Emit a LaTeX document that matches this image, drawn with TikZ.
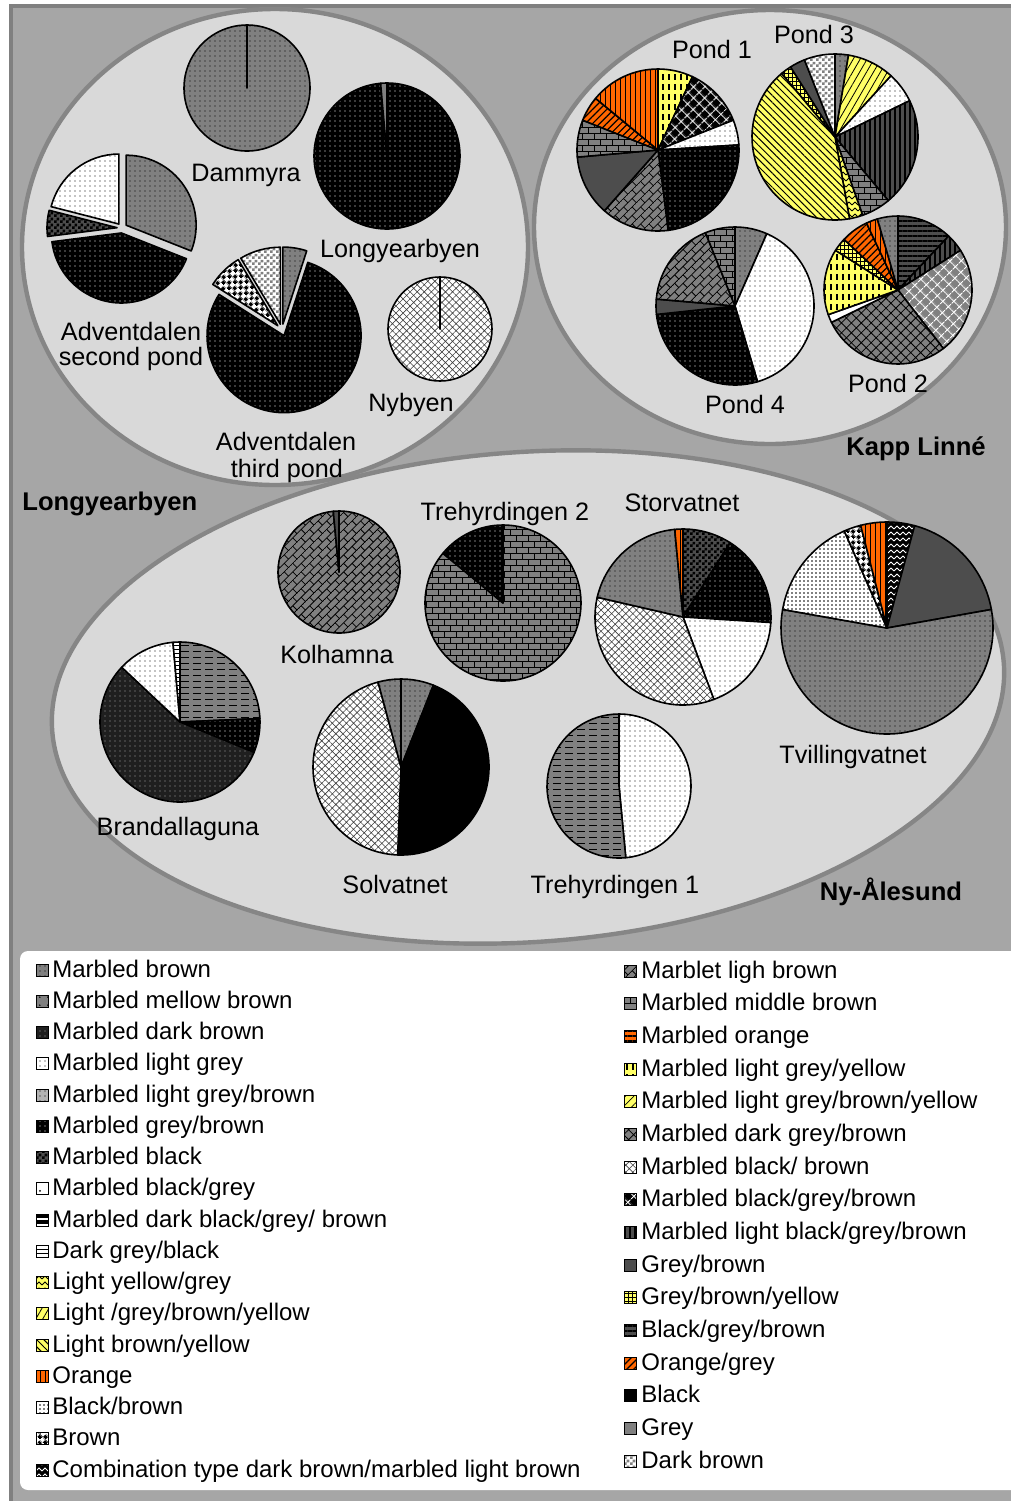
\documentclass[tikz,border=0pt]{standalone}
\usepackage{fontspec}
\setmainfont{Liberation Sans}
\usetikzlibrary{patterns.meta}

\definecolor{panel}{RGB}{166,166,166}
\definecolor{frame}{RGB}{128,128,128}
\definecolor{area}{RGB}{217,217,217}
\definecolor{arealine}{RGB}{134,134,134}
\definecolor{pgrey}{RGB}{128,128,128}
\definecolor{dgrey}{RGB}{77,77,77}
\definecolor{pyellow}{RGB}{255,255,102}
\definecolor{porange}{RGB}{255,102,0}

\tikzdeclarepattern{name=hbrick, type=uncolored,
  bottom left={(-.2pt,-.2pt)}, top right={(6.2pt,6.2pt)}, tile size={(6pt,6pt)},
  code={\draw[line width=.4pt] (0pt,0pt) -- (6pt,0pt) (0pt,3pt) -- (6pt,3pt)
    (0pt,0pt) -- (0pt,3pt) (3pt,3pt) -- (3pt,6pt);}}
\tikzdeclarepattern{name=dbrick, type=uncolored,
  bottom left={(-.2pt,-.2pt)}, top right={(6.2pt,6.2pt)}, tile size={(6pt,6pt)},
  tile transformation={rotate=45},
  code={\draw[line width=.4pt] (0pt,0pt) -- (6pt,0pt) (0pt,3pt) -- (6pt,3pt)
    (0pt,0pt) -- (0pt,3pt) (3pt,3pt) -- (3pt,6pt);}}
\tikzdeclarepattern{name=hdash, type=uncolored,
  bottom left={(-.2pt,-.2pt)}, top right={(6.2pt,3.2pt)}, tile size={(6pt,3pt)},
  code={\draw[line width=.5pt] (.5pt,1.5pt) -- (4.5pt,1.5pt);}}
\tikzdeclarepattern{name=vdash, type=uncolored,
  bottom left={(-.2pt,-.2pt)}, top right={(3.2pt,5.2pt)}, tile size={(3pt,5pt)},
  code={\draw[line width=.6pt] (1.5pt,.5pt) -- (1.5pt,3.5pt);}}
\tikzdeclarepattern{name=zz, type=uncolored,
  bottom left={(-.2pt,-.2pt)}, top right={(3.2pt,3.2pt)}, tile size={(3pt,3pt)},
  code={\draw[line width=.5pt] (0pt,0pt) -- (1.5pt,1.5pt) -- (3pt,0pt);}}
\tikzdeclarepattern{name=chk, type=uncolored,
  bottom left={(0pt,0pt)}, top right={(3pt,3pt)}, tile size={(3pt,3pt)},
  code={\fill (0pt,0pt) rectangle (1.5pt,1.5pt) (1.5pt,1.5pt) rectangle (3pt,3pt);}}
\tikzdeclarepattern{name=dchk, type=uncolored,
  bottom left={(0pt,0pt)}, top right={(4pt,4pt)}, tile size={(4pt,4pt)},
  tile transformation={rotate=45},
  code={\fill (0pt,0pt) rectangle (2pt,2pt) (2pt,2pt) rectangle (4pt,4pt);}}

\tikzset{
  slice/.style={draw=black, line width=0.8pt, line join=round},
  site/.style={fill=area, draw=arealine, line width=2.2pt},
  lbl/.style={font=\fontsize{12.6}{15}\selectfont, anchor=base, inner sep=0pt},
  region/.style={font=\bfseries\fontsize{12.8}{15}\selectfont, anchor=base, inner sep=0pt},
  key/.style={draw=black, line width=0.4pt, minimum size=6pt, inner sep=0pt},
  keytext/.style={font=\fontsize{12}{14}\selectfont, anchor=base west, inner sep=0pt},
  mbrown/.style={preaction={fill=pgrey}, pattern={Dots[distance=2.5pt,radius=.3pt]}, pattern color=black},
  mmellow/.style={preaction={fill=pgrey}, pattern={Dots[distance=4pt,radius=.4pt]}, pattern color=black},
  mdbrown/.style={preaction={fill=black!88}, pattern={Dots[distance=2.5pt,radius=.35pt]}, pattern color=black!35},
  mlgrey/.style={preaction={fill=white}, pattern={Dots[distance=2.5pt,radius=.3pt]}, pattern color=black},
  mlgb/.style={preaction={fill=pgrey!60}, pattern={Dots[distance=2.5pt,radius=.3pt]}, pattern color=black},
  mgb/.style={preaction={fill=black}, pattern={Dots[distance=2.5pt,radius=.3pt]}, pattern color=white},
  mblack/.style={preaction={fill=dgrey}, pattern=chk, pattern color=black},
  mbg/.style={preaction={fill=white}, pattern={Dots[distance=5pt,radius=.5pt]}, pattern color=black},
  mdbgb/.style={preaction={fill=black}, pattern={Lines[angle=0,distance=3pt,line width=.6pt]}, pattern color=white},
  dgb/.style={preaction={fill=white}, pattern={Lines[angle=0,distance=2pt,line width=.4pt]}, pattern color=black},
  hdsh/.style={preaction={fill=pgrey}, pattern=hdash, pattern color=black},
  lyg/.style={preaction={fill=pyellow}, pattern=zz, pattern color=black},
  lgby/.style={preaction={fill=pyellow}, pattern={Lines[angle=60,distance=3pt,line width=.4pt]}, pattern color=black},
  lby/.style={preaction={fill=pyellow}, pattern={Lines[angle=-45,distance=2.5pt,line width=.5pt]}, pattern color=black},
  oran/.style={preaction={fill=porange}, pattern={Lines[angle=90,distance=2.5pt,line width=.5pt]}, pattern color=black},
  bbrown/.style={preaction={fill=white}, pattern={Dots[distance=2pt,radius=.45pt]}, pattern color=black},
  brwn/.style={preaction={fill=white}, pattern=dchk, pattern color=black},
  combo/.style={preaction={fill=black}, pattern=zz, pattern color=white},
  mlbrown/.style={preaction={fill=pgrey}, pattern=dbrick, pattern color=black},
  mmid/.style={preaction={fill=pgrey}, pattern=hbrick, pattern color=black},
  moran/.style={preaction={fill=porange}, pattern={Lines[angle=0,distance=2.5pt,line width=.6pt]}, pattern color=black},
  mlgy/.style={preaction={fill=pyellow}, pattern=vdash, pattern color=black},
  mlgby/.style={preaction={fill=pyellow}, pattern={Lines[angle=45,distance=3pt,line width=.4pt]}, pattern color=black},
  mdgb/.style={preaction={fill=pgrey}, pattern={Hatch[angle=45,distance=3.5pt,line width=.4pt]}, pattern color=black},
  mbb/.style={preaction={fill=white}, pattern={Hatch[angle=45,distance=2.5pt,line width=.3pt]}, pattern color=black!75},
  mbgb/.style={preaction={fill=black}, pattern={Hatch[angle=45,distance=4pt,line width=.5pt]}, pattern color=white},
  mlbgb/.style={preaction={fill=dgrey}, pattern={Lines[angle=90,distance=2.5pt,line width=.6pt]}, pattern color=black},
  gbr/.style={fill=dgrey},
  gby/.style={preaction={fill=pyellow}, pattern={Hatch[angle=0,distance=2pt,line width=.4pt]}, pattern color=black},
  bgb/.style={preaction={fill=dgrey}, pattern={Lines[angle=0,distance=2.5pt,line width=.6pt]}, pattern color=black},
  orgr/.style={preaction={fill=porange}, pattern={Lines[angle=45,distance=2.5pt,line width=.6pt]}, pattern color=black},
  blk/.style={fill=black},
  gry/.style={fill=pgrey},
  wht/.style={fill=white},
  dbrown/.style={preaction={fill=white}, pattern=chk, pattern color=pgrey},
  gwx/.style={preaction={fill=pgrey}, pattern={Hatch[angle=45,distance=4pt,line width=.5pt]}, pattern color=white}
}

% #1 explode, #2 centre, #3 radius, #4 list from/to/material in percent
\newcommand\pie[4][0]{%
  \foreach \f/\t/\s in {#4}{
    \draw[slice,\s,shift={({-90+1.8*(\f+\t)}:#1)}] (#2) -- ++({-90+3.6*\f}:#3)
      arc[start angle={-90+3.6*\f}, end angle={-90+3.6*\t}, radius=#3] -- cycle;
  }
}

\begin{document}
\begin{tikzpicture}[x=0.5pt,y=-0.5pt]
\useasboundingbox (0,0) rectangle (1011,1501);
\fill[white] (0,0) rectangle (1011,1501);
\fill[frame] (9,4) rectangle (1011,1501);
\fill[panel] (13,8) rectangle (1011,1501);

\draw[site, rotate around={4:(528,697)}] (528,697) ellipse [x radius=477, y radius=245];
\draw[site] (275,247) ellipse [x radius=253, y radius=238];
\draw[site] (770,227) ellipse [x radius=236, y radius=217];

\pie{247,88}{63}{0/100/mbrown}
\pie{387,156}{73}{0/98.6/mgb, 98.6/100/gry}
\pie[5]{122,228}{70}{0/31/mbrown, 31/73/mgb, 73/79/mblack, 79/100/mlgrey}
\pie[6]{282,330}{77}{0/5/mbrown, 5/84/mgb, 84/91.4/brwn, 91.4/100/dbrown}
\pie{440,329}{52}{0/100/mbb}

\pie{658,150}{81}{0/7/mlgy, 7/19/mbgb, 19/24/mlgrey, 24/48/mgb, 48/61.5/mlbrown,
  61.5/73.6/gbr, 73.6/81/mmid, 81/86/orgr, 86/100/oran}
\pie{835,137}{83}{0/2.6/mbrown, 2.6/11.8/lgby, 11.8/17.8/mlgrey, 17.8/38.9/mlbgb,
  38.9/44.6/mmid, 44.6/47.2/lyg, 47.2/88.9/lby, 88.9/91/gby, 91/94/gbr, 94/100/dbrown}
\pie{898,290}{74}{0/12/bgb, 12/16/mlbgb, 16/39.5/gwx, 39.5/67.8/mdgb, 67.8/69.6/wht,
  69.6/84/mlgy, 84/87/gby, 87/93/orgr, 93/95.5/oran, 95.5/100/mbrown}
\pie{735,306}{79}{0/6.6/mbrown, 6.6/45.4/mlgrey, 45.4/73.3/mgb, 73.3/76.4/gbr,
  76.4/93.9/mlbrown, 93.9/100/mmid}

\pie{339,572}{61}{0/98.5/mlbrown, 98.5/100/gbr}
\pie{503,603}{78}{0/86/mmid, 86/100/mgb}
\pie{683,617}{88}{0/9/mblack, 9/26/mgb, 26/44.3/mlgrey, 44.3/78.6/mbb, 78.6/98.5/mbrown, 98.5/100/oran}
\pie{887,628}{106}{0/4.2/combo, 4.2/22.2/gbr, 22.2/77.8/mbrown, 77.8/93.4/bbrown, 93.4/96/brwn, 96/100/oran}
\pie{180,722}{80}{0/24.3/hdsh, 24.3/31.2/mgb, 31.2/87/mdbrown, 87/98.6/mlgrey, 98.6/100/dgb}
\pie{401,767}{88}{0/6/mbrown, 6/50.6/blk, 50.6/95.8/mbb, 95.8/100/mbrown}
\pie{619,786}{72}{0/48.5/mlgrey, 48.5/100/hdsh}

\node[lbl] (dammyra) at (246,181) {Dammyra};
\node[lbl] (longyear) at (400,257) {Longyearbyen};
\node[lbl] (adv2a) at (131,340) {Adventdalen};
\node[lbl] (adv2b) at (131,365) {second pond};
\node[lbl] (adv3a) at (286,450) {Adventdalen};
\node[lbl] (adv3b) at (287,477) {third pond};
\node[lbl] (nybyen) at (411,411) {Nybyen};
\node[lbl] (pond1) at (712,58) {Pond 1};
\node[lbl] (pond3) at (814,43) {Pond 3};
\node[lbl] (pond2) at (888,392) {Pond 2};
\node[lbl] (pond4) at (745,413) {Pond 4};
\node[lbl] (kolhamna) at (337,663) {Kolhamna};
\node[lbl] (tre2) at (505,520) {Trehyrdingen 2};
\node[lbl] (storv) at (682,511) {Storvatnet};
\node[lbl] (tvill) at (853,763) {Tvillingvatnet};
\node[lbl] (brand) at (178,835) {Brandallaguna};
\node[lbl] (solv) at (395,893) {Solvatnet};
\node[lbl] (tre1) at (615,893) {Trehyrdingen 1};

\node[region, anchor=base west] (rlong) at (22,510) {Longyearbyen};
\node[region] (rkapp) at (916,455) {Kapp Linné};
\node[region] (rny) at (891,900) {Ny-Ålesund};

\fill[white, rounded corners=4] (20,951) rectangle (1040,1490);
\foreach \m/\t [count=\i from 0] in {mbrown/Marbled brown, mmellow/Marbled mellow brown,
  mdbrown/Marbled dark brown, mlgrey/Marbled light grey, mlgb/{Marbled light grey/brown},
  mgb/{Marbled grey/brown}, mblack/Marbled black, mbg/{Marbled black/grey},
  mdbgb/{Marbled dark black/grey/ brown}, dgb/{Dark grey/black}, lyg/{Light yellow/grey},
  lgby/{Light /grey/brown/yellow}, lby/{Light brown/yellow}, oran/Orange,
  bbrown/{Black/brown}, brwn/Brown, combo/{Combination type dark brown/marbled light brown}}{
  \node[key,\m] (kl\i) at (42,{970+31.25*\i}) {};
  \node[keytext] (tl\i) at (52,{977+31.25*\i}) {\t};
}
\foreach \m/\t [count=\i from 0] in {mlbrown/Marblet ligh brown, mmid/Marbled middle brown,
  moran/Marbled orange, mlgy/{Marbled light grey/yellow}, mlgby/{Marbled light grey/brown/yellow},
  mdgb/{Marbled dark grey/brown}, mbb/{Marbled black/ brown}, mbgb/{Marbled black/grey/brown},
  mlbgb/{Marbled light black/grey/brown}, gbr/{Grey/brown}, gby/{Grey/brown/yellow},
  bgb/{Black/grey/brown}, orgr/{Orange/grey}, blk/Black, gry/Grey, dbrown/Dark brown}{
  \node[key,\m] (kr\i) at (630,{971+32.67*\i}) {};
  \node[keytext] (tr\i) at (641,{978+32.67*\i}) {\t};
}
\end{tikzpicture}
\end{document}
